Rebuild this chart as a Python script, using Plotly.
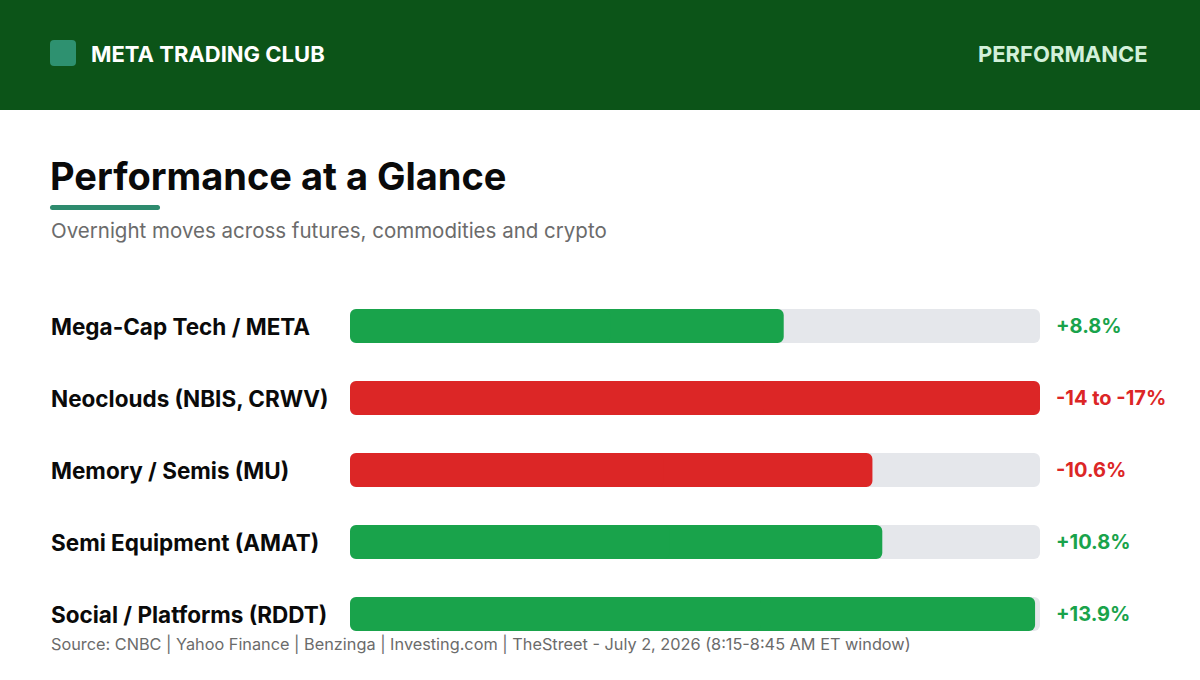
import plotly.graph_objects as go

categories = ["Mega-Cap Tech / META", "Neoclouds (NBIS, CRWV)", "Memory / Semis (MU)",
              "Semi Equipment (AMAT)", "Social / Platforms (RDDT)"]
values = [8.8, -17.0, -10.6, 10.8, 13.9]
value_labels = ["+8.8%", "-14 to -17%", "-10.6%", "+10.8%", "+13.9%"]
scale_max = 14.0

GREEN = "#19a34b"
RED = "#dc2626"
TRACK = "#e5e7eb"
FONT = "Inter"

W, H = 1200, 680
ML, MR, MT, MB = 350, 160, 290, 30
PW, PH = W - ML - MR, H - MT - MB

def px(x):
    return (x - ML) / PW

def py(y):
    return (H - MB - y) / PH

lengths = [min(abs(v), scale_max) for v in values]
colors = [GREEN if v >= 0 else RED for v in values]

fig = go.Figure()
BW = 0.472
n = len(categories)
# each bar = two overlapping pieces: one rounded at the right end, one at the left end
fig.add_trace(go.Bar(y=categories, x=[scale_max * 0.6] * n, base=[scale_max * 0.4] * n, orientation="h",
                     marker=dict(color=TRACK, line=dict(width=0)), hoverinfo="skip", width=BW))
fig.add_trace(go.Bar(y=categories, x=[-scale_max * 0.6] * n, base=[scale_max * 0.6] * n, orientation="h",
                     marker=dict(color=TRACK, line=dict(width=0)), hoverinfo="skip", width=BW))
fig.add_trace(go.Bar(y=categories, x=[l * 0.6 for l in lengths], base=[l * 0.4 for l in lengths],
                     orientation="h", marker=dict(color=colors, line=dict(width=0)),
                     hoverinfo="skip", width=BW))
fig.add_trace(go.Bar(y=categories, x=[-l * 0.6 for l in lengths], base=[l * 0.6 for l in lengths],
                     orientation="h", marker=dict(color=colors, line=dict(width=0)),
                     hoverinfo="skip", width=BW))

def rounded(x0, y0, x1, y1, r):
    def P(x, y):
        return f"{px(x)},{py(y)}"
    return (f"M {P(x0 + r, y0)} L {P(x1 - r, y0)} Q {P(x1, y0)} {P(x1, y0 + r)} "
            f"L {P(x1, y1 - r)} Q {P(x1, y1)} {P(x1 - r, y1)} L {P(x0 + r, y1)} "
            f"Q {P(x0, y1)} {P(x0, y1 - r)} L {P(x0, y0 + r)} Q {P(x0, y0)} {P(x0 + r, y0)} Z")

shapes = [
    dict(type="rect", xref="paper", yref="paper", x0=px(0), x1=px(W), y0=py(110), y1=py(0),
         fillcolor="#0c5418", line=dict(width=0), layer="below"),
    dict(type="path", xref="paper", yref="paper", path=rounded(50, 40, 76, 66, 4),
         fillcolor="#2e9170", line=dict(width=0)),
    dict(type="path", xref="paper", yref="paper", path=rounded(50, 205, 160, 210, 2.5),
         fillcolor="#2e8b6e", line=dict(width=0)),
]

annotations = [
    dict(text="<b>META TRADING CLUB</b>", x=px(89), y=py(54), xref="paper", yref="paper",
         xanchor="left", yanchor="middle", showarrow=False,
         font=dict(family=FONT, size=22, color="#ffffff")),
    dict(text="<b>PERFORMANCE</b>", x=px(1150), y=py(54), xref="paper", yref="paper",
         xanchor="right", yanchor="middle", showarrow=False,
         font=dict(family=FONT, size=22, color="#d3f0da")),
    dict(text="<b>Performance at a Glance</b>", x=px(48), y=py(176), xref="paper", yref="paper",
         xanchor="left", yanchor="middle", showarrow=False,
         font=dict(family=FONT, size=38, color="#0a0a0a")),
    dict(text="Overnight moves across futures, commodities and crypto", x=px(49), y=py(231),
         xref="paper", yref="paper", xanchor="left", yanchor="middle", showarrow=False,
         font=dict(family=FONT, size=20.5, color="#6b6b6b")),
    dict(text="Source: CNBC | Yahoo Finance | Benzinga | Investing.com | TheStreet - July 2, 2026 (8:15-8:45 AM ET window)",
         x=px(49), y=py(644), xref="paper", yref="paper", xanchor="left", yanchor="middle",
         showarrow=False, font=dict(family=FONT, size=16.3, color="#6b6b6b")),
]
for cat, lab, col in zip(categories, value_labels, colors):
    annotations.append(dict(text=f"<b>{cat}</b>", x=px(49), y=cat, xref="paper", yref="y",
                            xanchor="left", yanchor="middle", showarrow=False,
                            font=dict(family=FONT, size=22.5, color="#0a0a0a")))
    annotations.append(dict(text=f"<b>{lab}</b>", x=px(1054), y=cat, xref="paper", yref="y",
                            xanchor="left", yanchor="middle", showarrow=False,
                            font=dict(family=FONT, size=20, color=col)))

fig.update_layout(
    width=W, height=H, margin=dict(l=ML, r=MR, t=MT, b=MB),
    paper_bgcolor="#ffffff", plot_bgcolor="#ffffff",
    barmode="overlay", barcornerradius=6,
    xaxis=dict(range=[0, scale_max], visible=False, fixedrange=True),
    yaxis=dict(categoryorder="array", categoryarray=categories,
               range=[len(categories) - 0.5, -0.5], visible=False, fixedrange=True),
    shapes=shapes, annotations=annotations, showlegend=False,
)
fig.write_html("out.html", config={"displayModeBar": False})
